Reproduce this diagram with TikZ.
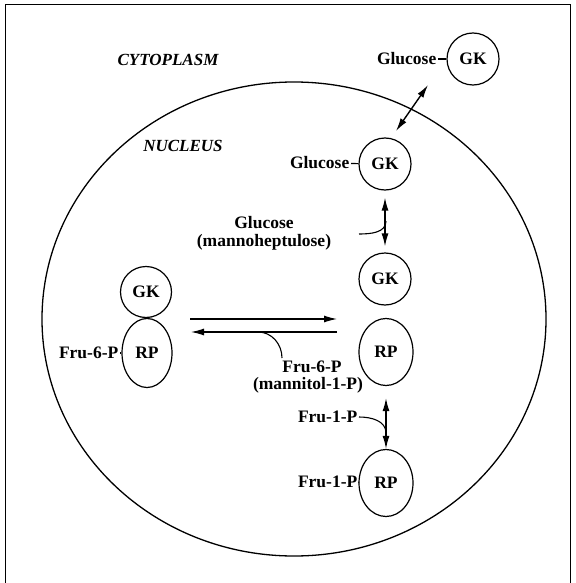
\documentclass[tikz,border=0pt]{standalone}
\usepackage{fontspec}
\setmainfont{Liberation Serif}
\usetikzlibrary{arrows.meta,shapes.geometric}
\begin{document}
\begin{tikzpicture}[x=1pt,y=-1pt,
  lbl/.style={font=\fontsize{17.5}{19}\selectfont\bfseries, inner sep=1.5pt},
  zone/.style={font=\fontsize{17}{19}\selectfont\bfseries\itshape, inner sep=0pt},
  gk/.style={draw, line width=1.2pt, circle, minimum size=52pt, inner sep=0pt, lbl},
  rp/.style={draw, line width=1.2pt, ellipse, minimum width=54pt, minimum height=67pt, inner sep=0pt, lbl},
  link/.style={line width=1.1pt},
  dbl/.style={line width=1.4pt, {Latex[length=13pt,width=7pt]}-{Latex[length=13pt,width=7pt]}},
  one/.style={line width=1.1pt, -{Latex[length=13pt,width=7pt]}},
]
\useasboundingbox (0,0) rectangle (575,583);
\draw[line width=1pt] (5,583) -- (5,5) -- (570,5) -- (570,583);
% nucleus
\draw[line width=1.3pt] (294,319) ellipse [x radius=252, y radius=237];
\node[zone] (cyto) at (168,60) {CYTOPLASM};
\node[zone] (nuc) at (183,146) {NUCLEUS};
% enzymes
\node[gk] (gk1) at (473,59) {GK};
\node[gk] (gk2) at (385,164) {GK};
\node[gk] (gk3) at (385,279) {GK};
\node[rp] (rp1) at (386,352) {RP};
\node[rp] (rp2) at (386,483) {RP};
\node[gk, minimum size=51pt] (gk4) at (146,292) {GK};
\node[rp, minimum width=50pt, minimum height=69pt] (rp3) at (147,353) {RP};
% bound ligands
\node[lbl, anchor=east] (g1) at (438,59) {Glucose};
\draw[link] (g1) -- (gk1);
\node[lbl, anchor=east] (g2) at (351,163) {Glucose};
\draw[link] (g2) -- (gk2);
\node[lbl, anchor=east] (f6) at (120,353) {Fru-6-P};
\draw[link] (f6) -- (rp3);
\node[lbl, anchor=east] (f1b) at (359,482) {Fru-1-P};
\draw[link] (f1b) -- (rp2);
% effector labels
\node[lbl] (gl) at (264,223) {Glucose};
\node[lbl] (mh) at (264,242) {(mannoheptulose)};
\node[lbl] (fr6) at (312,367) {Fru-6-P};
\node[lbl] (mn) at (308,385) {(mannitol-1-P)};
\node[lbl, anchor=east] (f1a) at (359,417) {Fru-1-P};
% transport across membrane
\coordinate (t1) at (428,85);
\coordinate (t2) at (396,131);
\draw[dbl] (t2) -- (t1);
% glucose dissociation
\draw[dbl, shorten <=7pt, shorten >=6pt] (gk2) -- (gk3);
\coordinate (c1) at (359,234);
\coordinate (m1) at (386,221);
\draw[link] (c1) to[out=0, in=-90] (m1);
% fru-1-P association
\draw[dbl, shorten <=12pt] (rp1) -- (rp2);
\coordinate (m2) at (386,433);
\draw[link] (f1a.east) to[out=0, in=90] (m2);
% GK-RP association
\coordinate (h1) at (190,319);
\coordinate (h2) at (337,319);
\coordinate (h3) at (337,332);
\coordinate (h4) at (191,332);
\draw[one] (h1) -- (h2);
\draw[one] (h3) -- (h4);
\coordinate (c2) at (282,358);
\coordinate (m3) at (258,332);
\draw[link] (c2) to[out=90, in=0] (m3);
\end{tikzpicture}
\end{document}
